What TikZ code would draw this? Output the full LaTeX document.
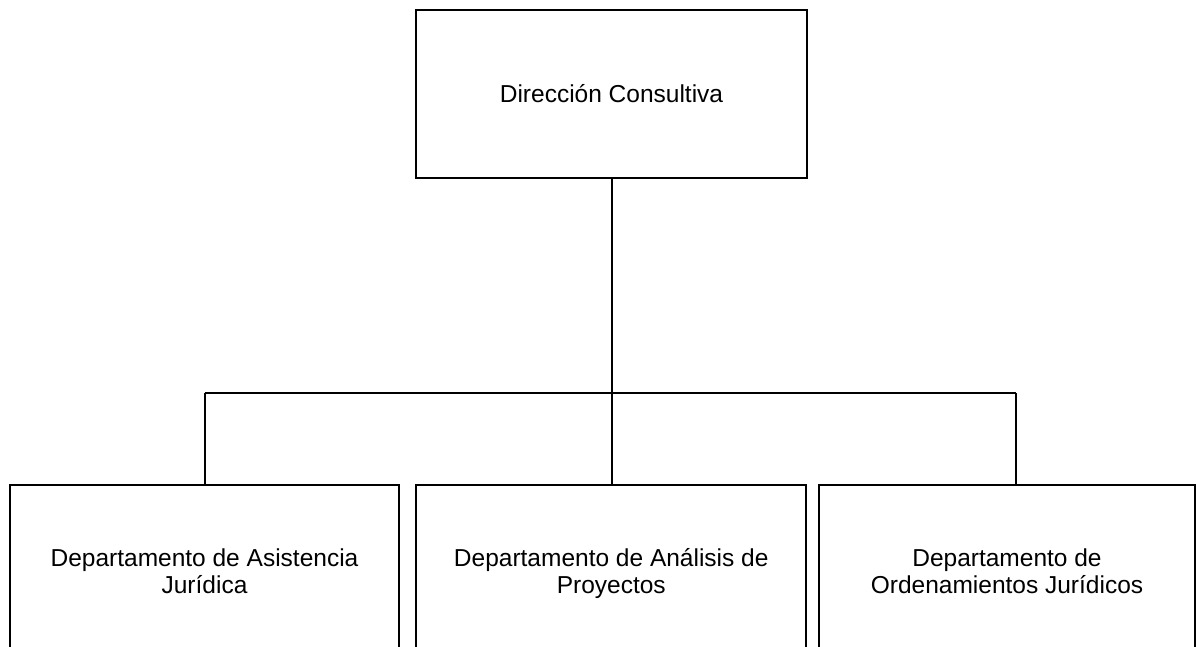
\documentclass[tikz,border=0pt]{standalone}
\usepackage{fontspec}
\setmainfont{Liberation Sans}
\tikzset{
  unit/.style={draw, line width=0.8pt, rectangle, inner sep=0pt, outer sep=0pt,
    align=center, font=\fontsize{12.25pt}{13.75pt}\selectfont},
  link/.style={line width=1pt}
}
\begin{document}
\begin{tikzpicture}[x=0.5pt, y=-0.5pt]
  \clip (0, 0) rectangle (1196, 647);
  \node[unit, minimum width=195.5pt, minimum height=84pt] (dir) at (611.5, 94)
    {Dirección Consultiva};
  \node[unit, minimum width=194.5pt, minimum height=89.5pt] (asist) at (204.5, 574.5)
    {\strut Departamento de Asistencia\\\strut Jurídica};
  \node[unit, minimum width=195pt, minimum height=89.5pt] (anal) at (611.25, 574.5)
    {\strut Departamento de Análisis de\\\strut Proyectos};
  \node[unit, minimum width=188pt, minimum height=89.5pt] (orden) at (1007, 574.5)
    {\strut Departamento de\\\strut Ordenamientos Jurídicos};
  \coordinate (busL) at (204.5, 393);
  \coordinate (busR) at (1016, 393);
  \draw[link] (dir.south) -- (dir.south |- anal.north);
  \draw[link] (busL) -- (busR);
  \draw[link] (busL) -- (asist.north);
  \draw[link] (busR) -- (busR |- orden.north);
\end{tikzpicture}
\end{document}
